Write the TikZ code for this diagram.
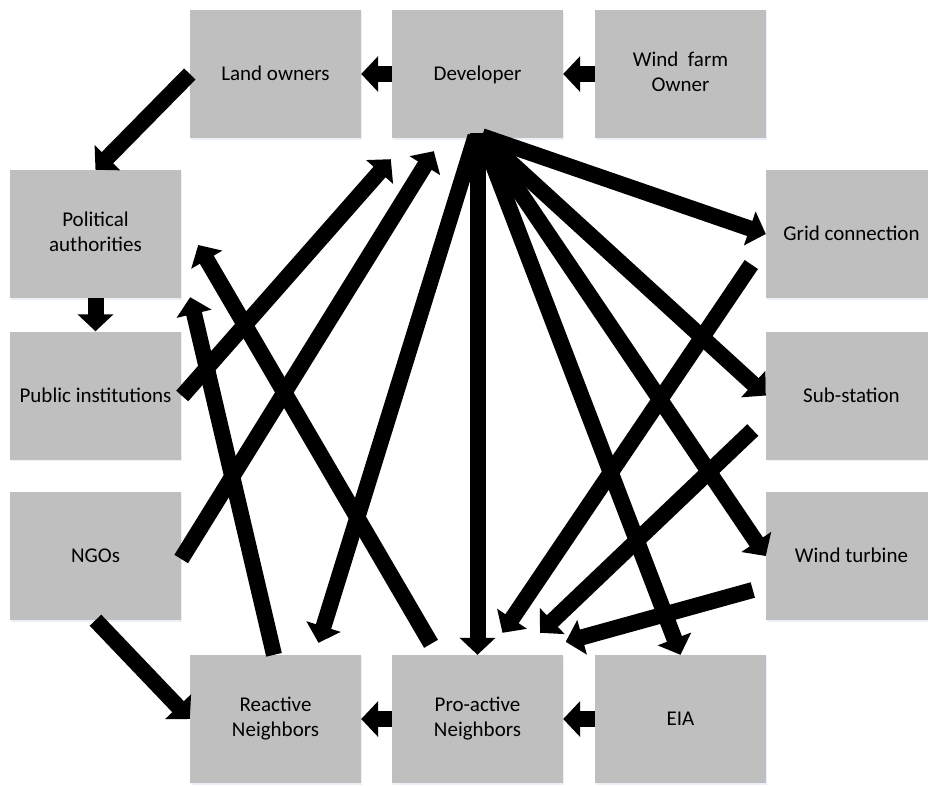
\documentclass[tikz,border=0pt]{standalone}
\usepackage{fontspec}
\setmainfont{Carlito}
\usetikzlibrary{arrows.meta,calc,shadows}
\definecolor{boxgray}{RGB}{191,191,191}
\definecolor{shadowblue}{RGB}{234,240,248}
\newcommand\boxstrut{\rule[-4pt]{0pt}{21pt}}
\begin{document}
\begin{tikzpicture}[x=1pt,y=-1pt,
  box/.style={fill=boxgray, minimum width=171pt, minimum height=128pt, inner sep=0pt, align=center,
    font=\fontsize{21}{25}\selectfont,
    execute at begin node=\boxstrut, execute at end node=\boxstrut,
    drop shadow={shadow xshift=1pt, shadow yshift=-1.5pt, fill=shadowblue, opacity=1}},
  bar/.style={line width=16pt, -{Triangle[length=17pt,width=35pt]}}
]
\useasboundingbox (0,0) rectangle (928,785);
\clip (0,0) rectangle (928,785);
% boxes
\node[box] (land) at (275.5,74) {Land owners};
\node[box] (dev)  at (477.5,74) {Developer};
\node[box] (wfo)  at (680.5,74) {Wind\ \ farm\\Owner};
\node[box] (pol)  at (95.5,234) {Political\\authorities};
\node[box] (pub)  at (95.5,395.5) {Public institutions};
\node[box] (ngo)  at (95.5,556) {NGOs};
\node[box] (grid) at (851.5,234) {Grid connection};
\node[box] (sub)  at (851.5,395.5) {Sub-station};
\node[box] (wt)   at (851.5,556) {Wind turbine};
\node[box] (rea)  at (275.5,719) {Reactive\\Neighbors};
\node[box] (pro)  at (477.5,719) {Pro-active\\Neighbors};
\node[box] (eia)  at (680.5,719) {EIA};
% short arrows between neighbouring boxes
\draw[bar] (wfo.west) -- (dev.east);
\draw[bar] (dev.west) -- (land.east);
\draw[bar] (land.west) -- (pol.north);
\draw[bar] (pol.south) -- (pub.north);
\draw[bar] (eia.west) -- (pro.east);
\draw[bar] (pro.west) -- (rea.east);
\draw[bar] (ngo.south) -- (rea.west);
% fan from developer
\draw[bar] ($(dev.south)+(4.5,-2)$) -- (grid.west);
\draw[bar] ($(dev.south)+(4.5,-2)$) -- (sub.west);
\draw[bar] ($(dev.south)+(4.5,-2)$) -- (wt.west);
\draw[bar] ($(dev.south)+(4.5,-2)$) -- (eia.north);
\draw[bar] ($(dev.south)+(0,-5)$) -- (pro.north);
\draw[bar] ($(dev.south)+(-2,-2)$) -- ($(rea.north)+(43,-12)$);
% into pro-active neighbors
\draw[bar] ($(grid.west)+(-14.5,30.5)$) -- ($(pro.north)+(25,-22)$);
\draw[bar] ($(sub.west)+(-13,34.5)$) -- ($(pro.north)+(62.5,-22)$);
\draw[bar] ($(wt.west)+(-13,34)$) -- ($(pro.north east)+(2.5,-13)$);
% into developer
\draw[bar] ($(pub.east)+(1,0.5)$) -- ($(dev.south west)+(-1,21)$);
\draw[bar] ($(ngo.east)+(0,3)$) -- ($(dev.south west)+(42,13)$);
% into political authorities
\draw[bar] ($(pro.north)+(-46.5,-11)$) -- ($(pol.east)+(17,11)$);
\draw[bar] ($(rea.north)+(-1.5,0)$) -- ($(pol.south east)+(9,-1)$);
\end{tikzpicture}
\end{document}
